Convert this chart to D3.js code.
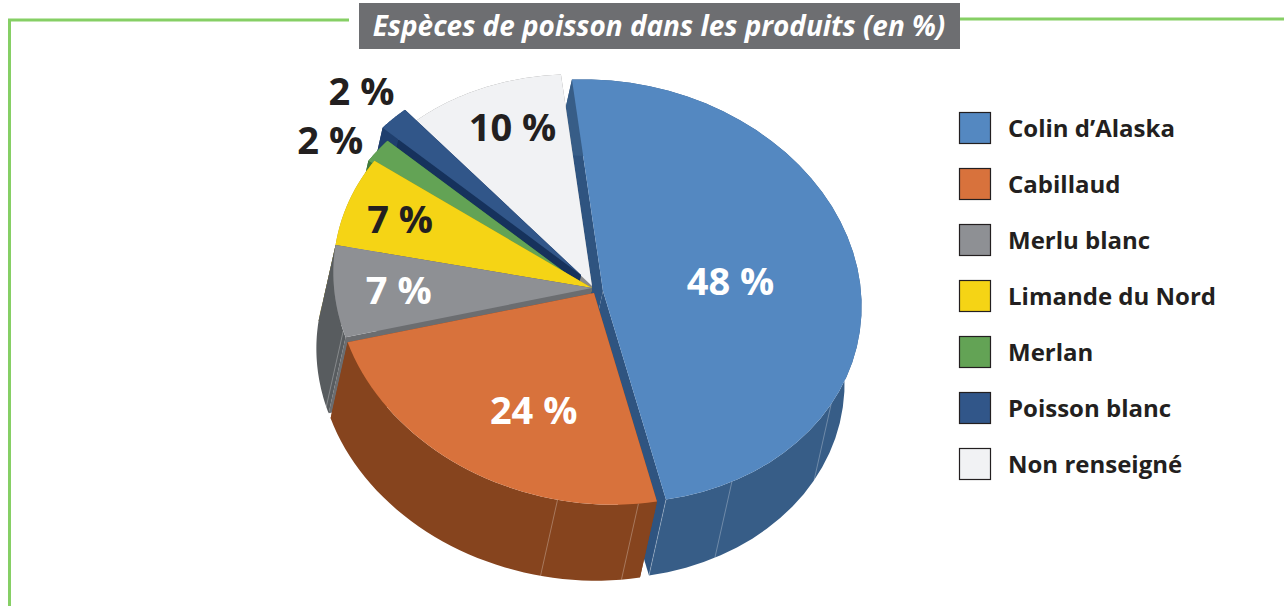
<!DOCTYPE html>
<meta charset="utf-8">
<title>Espèces de poisson</title>
<script src="https://cdn.jsdelivr.net/npm/d3@7"></script>
<style>
  html, body { margin: 0; padding: 0; background: #fff; }
  svg { display: block; }
  text { font-family: "Open Sans", Lato, sans-serif; font-weight: 700; }
</style>
<div id="chart"></div>
<script>
  // data
  var titleText = "Espèces de poisson dans les produits (en %)";
  var species = ["Colin d’Alaska", "Cabillaud", "Merlu blanc", "Limande du Nord", "Merlan", "Poisson blanc", "Non renseigné"];
  var shares = [48, 24, 7, 7, 2, 2, 10];

  // colours per slice
  var topColors = ["#5488c1", "#d8723c", "#8e9094", "#f5d415", "#63a355", "#315689", "#f1f2f4"];
  var wallColors = ["#375d87", "#86441e", "#585c5f", "#a8921a", "#3f7a3a", "#1f3f6e", "#8a8a8a"];
  var faceColors = ["#2f5480", "#86441e", "#6b6d70", "#a8921a", "#3f7a3a", "#16325c", "#8a8a8a"];
  var labelColors = ["#fff", "#fff", "#fff", "#231f20", "#231f20", "#231f20", "#231f20"];

  // how far each slice is pulled out of the pie, and where its label sits (radius factor, angle nudge in degrees)
  var explode = [[11, 3], [2, 5], [0, 0], [0, 0], [-6, 0], [-11, -13], [0, -2]];
  var labelRadius = [0.5, 0.62, 0.75, 0.79, 1.17, 1.17, 0.79];
  var labelNudge = [1, -7, 0, 0, -4, 0, 2];
  // pale seams on the side walls, as a slice index and an angle in degrees
  var seams = [[0, 157.8], [0, 142], [0, 110], [1, 162], [1, 180], [2, 246]];

  var width = 1284, height = 606;
  var cx = 592, cy = 288, rx = 260, ry = 210, tilt = 10 * Math.PI / 180;
  var depth = [-17, 76];
  var startDeg = -15;

  var svg = d3.select("#chart").append("svg")
    .attr("width", width)
    .attr("height", height);

  // green frame behind the title
  var frameColor = "#86cf65";
  svg.append("path")
    .attr("d", "M9.5,606V20H349")
    .attr("fill", "none").attr("stroke", frameColor).attr("stroke-width", 3);
  svg.append("path")
    .attr("d", "M960,19H1284")
    .attr("fill", "none").attr("stroke", frameColor).attr("stroke-width", 3);

  svg.append("rect")
    .attr("x", 359).attr("y", 3).attr("width", 601).attr("height", 46)
    .attr("fill", "#6d6e71");
  svg.append("text")
    .attr("x", 659).attr("y", 36)
    .attr("text-anchor", "middle")
    .attr("font-size", 27.9).attr("font-style", "italic")
    .attr("fill", "#fff")
    .text(titleText);

  // project an angle on the pie disc on to the tilted page ellipse
  function project(a, r, off) {
    var px = rx * r * Math.sin(a), py = -ry * r * Math.cos(a);
    return [
      cx + off[0] + px * Math.cos(tilt) - py * Math.sin(tilt),
      cy + off[1] + px * Math.sin(tilt) + py * Math.cos(tilt)
    ];
  }

  function shift(p) { return [p[0] + depth[0], p[1] + depth[1]]; }

  var pie = d3.pie().sort(null)
    .startAngle(startDeg * Math.PI / 180)
    .endAngle((startDeg + 360) * Math.PI / 180);
  var arcs = pie(shares);
  var line = d3.line();

  function arcPoints(d, off) {
    return d3.range(0, 41).map(function (k) {
      return project(d.startAngle + (d.endAngle - d.startAngle) * k / 40, 1, off);
    });
  }

  // painter's order: blue at the very back, orange last
  var drawOrder = [0, 6, 5, 4, 3, 2, 1];
  var pieG = svg.append("g");

  drawOrder.forEach(function (i) {
    var d = arcs[i], off = explode[i];
    var apex = project(0, 0, off);
    var rim = arcPoints(d, off);
    var g = pieG.append("g");

    // the two cut faces
    [rim[0], rim[rim.length - 1]].forEach(function (p) {
      g.append("path")
        .attr("d", line([apex, p, shift(p), shift(apex)]) + "Z")
        .attr("fill", faceColors[i]);
    });
    // outer wall
    g.append("path")
      .attr("d", line(rim.concat(rim.map(shift).reverse())) + "Z")
      .attr("fill", wallColors[i]);
    // seams
    seams.filter(function (s) { return s[0] === i; }).forEach(function (s) {
      var p = project(s[1] * Math.PI / 180, 1, off);
      g.append("path")
        .attr("d", line([p, shift(p)]))
        .attr("stroke", "#fff").attr("stroke-width", 0.8).attr("opacity", 0.35);
    });
    // top of the slice
    g.append("path")
      .attr("d", line([apex].concat(rim)) + "Z")
      .attr("fill", topColors[i]);
  });

  // value labels
  svg.append("g").selectAll("text")
    .data(arcs)
    .enter().append("text")
    .attr("transform", function (d, i) {
      var mid = (d.startAngle + d.endAngle) / 2 + labelNudge[i] * Math.PI / 180;
      var p = project(mid, labelRadius[i], explode[i]);
      return "translate(" + p[0] + "," + p[1] + ")";
    })
    .attr("dy", "0.36em")
    .attr("text-anchor", "middle")
    .attr("font-size", 38)
    .attr("fill", function (d, i) { return labelColors[i]; })
    .text(function (d) { return d.value + " %"; });

  // legend
  var legendY = d3.scalePoint().domain(species).range([128, 464]);
  var legend = svg.append("g").selectAll("g")
    .data(species)
    .enter().append("g")
    .attr("transform", function (d) { return "translate(959," + legendY(d) + ")"; });
  legend.append("rect")
    .attr("x", 0.5).attr("y", -15.5).attr("width", 31).attr("height", 31)
    .attr("fill", function (d, i) { return topColors[i]; })
    .attr("stroke", "#231f20").attr("stroke-width", 1.2);
  legend.append("text")
    .attr("x", 49).attr("dy", "0.36em")
    .attr("font-size", 24)
    .attr("fill", "#231f20")
    .text(function (d) { return d; });
</script>
